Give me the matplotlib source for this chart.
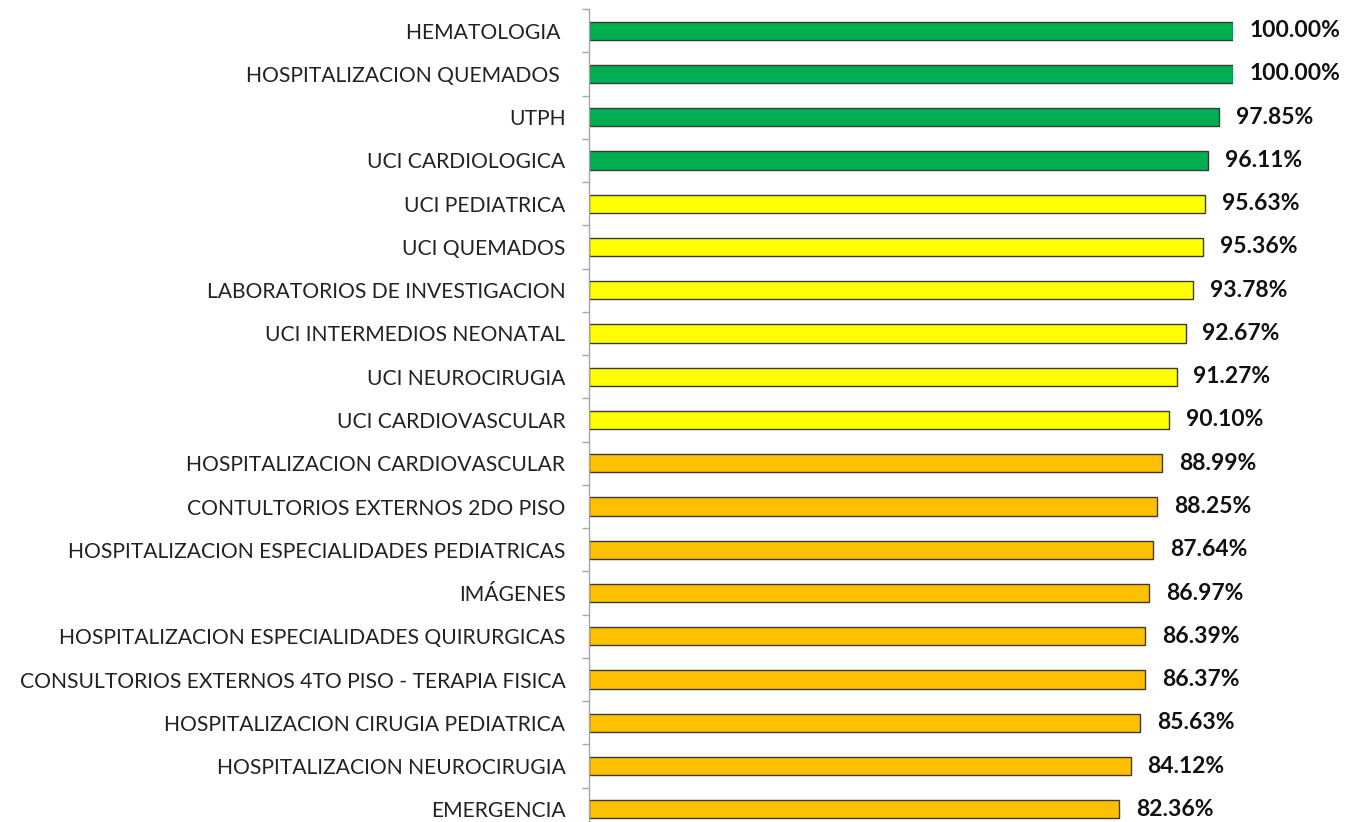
import matplotlib.pyplot as plt
from matplotlib.ticker import FixedLocator

servicios = [
    "HEMATOLOGIA ",
    "HOSPITALIZACION QUEMADOS ",
    "UTPH",
    "UCI CARDIOLOGICA",
    "UCI PEDIATRICA",
    "UCI QUEMADOS",
    "LABORATORIOS DE INVESTIGACION",
    "UCI INTERMEDIOS NEONATAL",
    "UCI NEUROCIRUGIA",
    "UCI CARDIOVASCULAR",
    "HOSPITALIZACION CARDIOVASCULAR",
    "CONTULTORIOS EXTERNOS 2DO PISO",
    "HOSPITALIZACION ESPECIALIDADES PEDIATRICAS",
    "IMÁGENES",
    "HOSPITALIZACION ESPECIALIDADES QUIRURGICAS",
    "CONSULTORIOS EXTERNOS 4TO PISO - TERAPIA FISICA",
    "HOSPITALIZACION CIRUGIA PEDIATRICA",
    "HOSPITALIZACION NEUROCIRUGIA",
    "EMERGENCIA",
]
porcentajes = [100.00, 100.00, 97.85, 96.11, 95.63, 95.36, 93.78, 92.67, 91.27,
               90.10, 88.99, 88.25, 87.64, 86.97, 86.39, 86.37, 85.63, 84.12, 82.36]

VERDE = "#00B050"
AMARILLO = "#FFFF00"
NARANJA = "#FFC000"


def color_de(p):
    # semaforo: >=96 verde, >=90 amarillo, resto naranja
    if p >= 96:
        return VERDE
    if p >= 90:
        return AMARILLO
    return NARANJA


colores = [color_de(p) for p in porcentajes]

W, H = 1346, 822
fig = plt.figure(figsize=(W / 100, H / 100), dpi=100)
ax = fig.add_axes([589 / W, -9 / H, (1233 - 589) / W, 822 / H])

n = len(servicios)
pos = list(range(n))
ax.barh(pos, porcentajes, height=0.42, color=colores,
        edgecolor="#3a3a3a", linewidth=1.0)

for y, p in zip(pos, porcentajes):
    ax.annotate(f"{p:.2f}%", (p, y), xytext=(12, 0), textcoords="offset points",
                va="center", ha="left", fontsize=16.5, fontweight="bold",
                family="Lato", color="#111111", annotation_clip=False)

ax.set_xlim(0, 100)
ax.set_ylim(n - 0.5, -0.5)
ax.set_yticks(pos)
ax.set_yticklabels(servicios, family="Lato", fontsize=15.2, color="#222222")
ax.tick_params(axis="y", which="major", length=0, pad=17)
ax.yaxis.set_minor_locator(FixedLocator([i - 0.5 for i in range(n + 1)]))
ax.tick_params(axis="y", which="minor", length=5, color="#A6A6A6", width=1)
ax.set_xticks([])

for s in ["top", "right", "bottom"]:
    ax.spines[s].set_visible(False)
ax.spines["left"].set_color("#A6A6A6")
ax.spines["left"].set_linewidth(1)

fig.savefig("out.png", dpi=100)
